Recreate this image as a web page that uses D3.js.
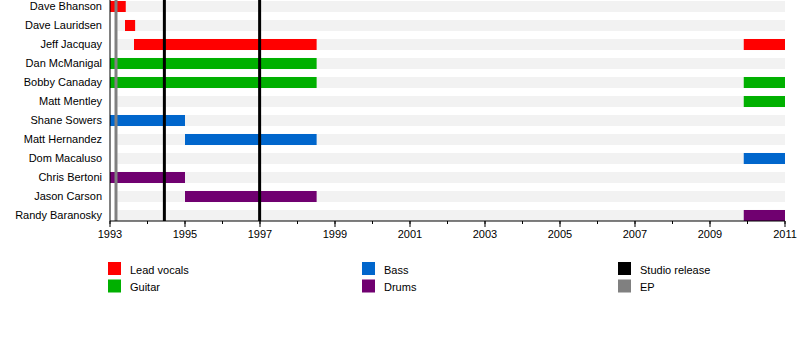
<!DOCTYPE html>
<html><head><meta charset="utf-8">
<script src="https://cdn.jsdelivr.net/npm/d3@7"></script>
<style>body{margin:0;background:#fff}svg{display:block;font-family:"Liberation Sans",Arial,sans-serif}</style>
</head><body><svg id="c" width="800" height="340"></svg>
<script>
const members = ["Dave Bhanson","Dave Lauridsen","Jeff Jacquay","Dan McManigal","Bobby Canaday","Matt Mentley","Shane Sowers","Matt Hernandez","Dom Macaluso","Chris Bertoni","Jason Carson","Randy Baranosky"];
const roles = ["Lead vocals","Guitar","Bass","Drums"];
const roleColors = ["#ff0000","#00b000","#0066cc","#700070"];
// [member, role, start, end]
const stints = [
  ["Dave Bhanson","Lead vocals",1993.0,1993.42],
  ["Dave Lauridsen","Lead vocals",1993.4,1993.67],
  ["Jeff Jacquay","Lead vocals",1993.64,1998.51],
  ["Jeff Jacquay","Lead vocals",2009.9,2011],
  ["Dan McManigal","Guitar",1993.0,1998.51],
  ["Bobby Canaday","Guitar",1993.0,1998.51],
  ["Bobby Canaday","Guitar",2009.9,2011],
  ["Matt Mentley","Guitar",2009.9,2011],
  ["Shane Sowers","Bass",1993.0,1995.0],
  ["Matt Hernandez","Bass",1995.0,1998.51],
  ["Dom Macaluso","Bass",2009.9,2011],
  ["Chris Bertoni","Drums",1993.0,1995.0],
  ["Jason Carson","Drums",1995.0,1998.51],
  ["Randy Baranosky","Drums",2009.9,2011]
];
const releaseTypes = ["Studio release","EP"];
const releaseColors = ["#000000","#808080"];
const releases = [["EP",1993.16],["Studio release",1994.45],["Studio release",1996.99]];
const yearStart = 1993, yearEnd = 2011;
const bandStart = 1993.2;

const svg = d3.select("#c");
const x = d3.scaleLinear().domain([yearStart, yearEnd]).range([110, 785]);
const y = d3.scaleBand().domain(members).range([-3, 225]).paddingInner(0.42).paddingOuter(0.21);
const roleColor = d3.scaleOrdinal().domain(roles).range(roleColors);
const relColor = d3.scaleOrdinal().domain(releaseTypes).range(releaseColors);

// background bands
svg.append("g").selectAll("rect").data(members).join("rect")
  .attr("x", x(bandStart)).attr("width", x(yearEnd)-x(bandStart))
  .attr("y", d=>y(d)).attr("height", y.bandwidth()).attr("fill","#f2f2f2");

// stints
svg.append("g").selectAll("rect").data(stints).join("rect")
  .attr("x", d=>x(d[2])).attr("width", d=>x(d[3])-x(d[2]))
  .attr("y", d=>y(d[0])).attr("height", y.bandwidth()).attr("fill", d=>roleColor(d[1]));

// release lines
svg.append("g").selectAll("line").data(releases).join("line")
  .attr("x1", d=>x(d[1])).attr("x2", d=>x(d[1]))
  .attr("y1", 0).attr("y2", 221)
  .attr("stroke", d=>relColor(d[0])).attr("stroke-width", 3);

// labels
svg.append("g").selectAll("text").data(members).join("text")
  .attr("x", 102).attr("y", d=>y(d)+y.bandwidth()/2).attr("dy","0.35em")
  .attr("text-anchor","end").attr("font-size",11).attr("fill","#000").text(d=>d);

// axes
const ax = svg.append("g").attr("transform","translate(0,221)");
const minor = d3.range(yearStart, yearEnd+1, 1);
ax.selectAll("line.minor").data(minor).join("line").attr("class","minor")
  .attr("x1", d=>x(d)).attr("x2", d=>x(d)).attr("y1",0).attr("y2",3)
  .attr("stroke","#000");
const major = d3.range(yearStart, yearEnd+1, 2);
ax.selectAll("line.major").data(major).join("line").attr("class","major")
  .attr("x1", d=>x(d)).attr("x2", d=>x(d)).attr("y1",0).attr("y2",6)
  .attr("stroke","#000");
ax.selectAll("text").data(major).join("text")
  .attr("x", d=>x(d)).attr("y", 17).attr("text-anchor","middle")
  .attr("font-size",11).attr("fill","#000").text(d=>d);
ax.append("line").attr("x1", x(yearStart)).attr("x2", x(yearEnd)).attr("y1",0).attr("y2",0).attr("stroke","#000");
svg.append("line").attr("x1", x(yearStart)).attr("x2", x(yearStart)).attr("y1",0).attr("y2",221).attr("stroke","#000");

// legend
const legendItems = [
  [roles[0], roleColor(roles[0]), 0, 0],
  [roles[1], roleColor(roles[1]), 0, 1],
  [roles[2], roleColor(roles[2]), 1, 0],
  [roles[3], roleColor(roles[3]), 1, 1],
  [releaseTypes[0], relColor(releaseTypes[0]), 2, 0],
  [releaseTypes[1], relColor(releaseTypes[1]), 2, 1]
];
const colX = [108, 362, 618];
const lg = svg.append("g");
const li = lg.selectAll("g").data(legendItems).join("g")
  .attr("transform", d=>`translate(${colX[d[2]]},${262 + d[3]*17.5})`);
li.append("rect").attr("width",13).attr("height",13).attr("fill", d=>d[1]);
li.append("text").attr("x",22).attr("y",8).attr("dy","0.35em").attr("font-size",11).attr("fill","#000").text(d=>d[0]);
</script></body></html>
